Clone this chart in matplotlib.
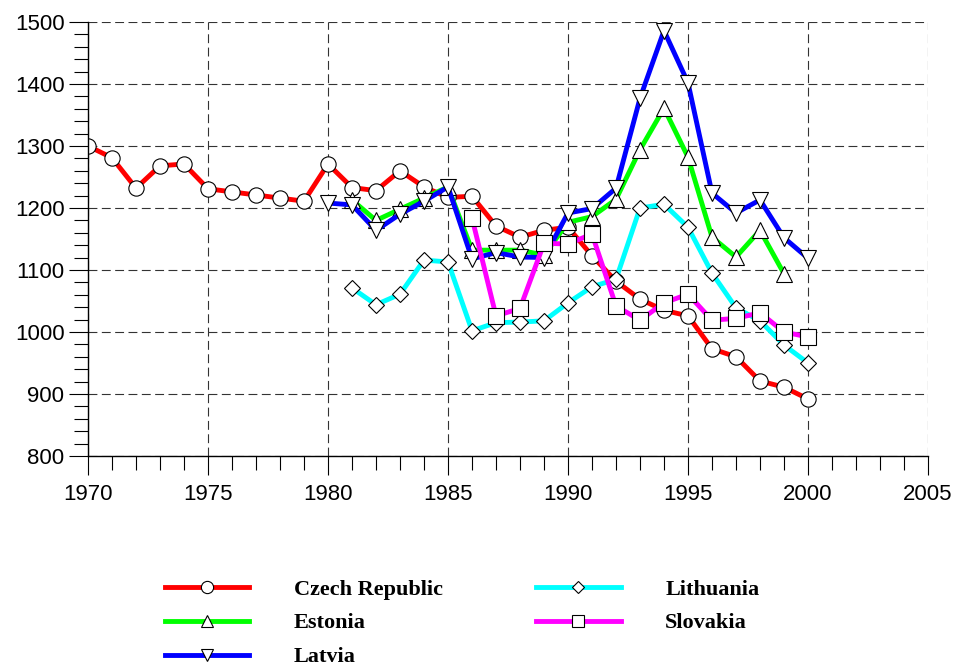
import numpy as np
import matplotlib.pyplot as plt
from matplotlib.ticker import MultipleLocator

plt.rcParams["font.family"] = ["Liberation Sans", "DejaVu Sans"]

czech_years = list(range(1970, 2001))
czech = [1300, 1281, 1232, 1268, 1271, 1231, 1226, 1221, 1216, 1211,
         1271, 1233, 1228, 1260, 1234, 1217, 1219, 1171, 1153, 1164,
         1169, 1123, 1082, 1053, 1035, 1026, 973, 960, 921, 911, 892]

estonia_years = list(range(1981, 2000))
estonia = [1213, 1180, 1198, 1216, 1234, 1132, 1132, 1132, 1124,
           1177, 1186, 1214, 1294, 1361, 1282, 1153, 1121, 1164, 1094]

latvia_years = list(range(1980, 2001))
latvia = [1208, 1205, 1164, 1190, 1211, 1234, 1118, 1128, 1121, 1120,
          1192, 1199, 1232, 1377, 1486, 1402, 1224, 1192, 1213, 1152, 1119]

lithuania_years = list(range(1981, 2001))
lithuania = [1071, 1044, 1061, 1116, 1113, 1002, 1015, 1016, 1018, 1047,
             1073, 1085, 1200, 1206, 1169, 1095, 1039, 1018, 979, 950]

slovakia_years = list(range(1986, 2001))
slovakia = [1184, 1026, 1038, 1143, 1142, 1158, 1042, 1019, 1047, 1061,
            1019, 1022, 1031, 1000, 992]

fig = plt.figure(figsize=(9.57, 6.63), dpi=100)
ax = fig.add_axes([88 / 957, 1 - 456 / 663, 840 / 957, 434 / 663])

mk = dict(markerfacecolor="white", markeredgecolor="black", markeredgewidth=0.8)
ax.plot(czech_years, czech, color="#ff0000", lw=3.5, marker="o", ms=11,
        label="Czech Republic", **mk)
ax.plot(estonia_years, estonia, color="#00ff00", lw=3.5, marker="^", ms=11,
        label="Estonia", **mk)
ax.plot(latvia_years, latvia, color="#0000ff", lw=3.5, marker="v", ms=11,
        label="Latvia", **mk)
ax.plot(lithuania_years, lithuania, color="#00ffff", lw=3.5, marker="D", ms=8,
        label="Lithuania", **mk)
ax.plot(slovakia_years, slovakia, color="#ff00ff", lw=3.5, marker="s", ms=11,
        label="Slovakia", **mk)

ax.set_xlim(1970, 2005)
ax.set_ylim(800, 1500)
ax.xaxis.set_major_locator(MultipleLocator(5))
ax.xaxis.set_minor_locator(MultipleLocator(1))
ax.yaxis.set_major_locator(MultipleLocator(100))
ax.yaxis.set_minor_locator(MultipleLocator(20))
ax.tick_params(which="major", direction="out", length=14, width=0.8,
               labelsize=16, pad=3)
ax.tick_params(axis="x", which="major", pad=6)
ax.tick_params(which="minor", direction="out", length=10, width=0.8)

ax.grid(which="major", color="#333333", lw=0.8, linestyle=(0, (8, 4)))
ax.spines["top"].set_visible(False)
ax.spines["right"].set_visible(False)
for s in ("left", "bottom"):
    ax.spines[s].set_linewidth(1.0)
ax.set_axisbelow(True)

# legend sits under the axes, last row runs off the bottom edge
handles, labels = ax.get_legend_handles_labels()
leg = fig.legend(handles, labels, ncol=2, loc="upper left",
                 bbox_to_anchor=(165 / 957, 1 - 579 / 663),
                 frameon=False, numpoints=1, borderpad=0, borderaxespad=0,
                 handlelength=3.8, handletextpad=2.0, columnspacing=4.2,
                 labelspacing=0.6, markerscale=0.8,
                 prop={"family": "Liberation Serif", "weight": "bold", "size": 16})

fig.savefig("out.png", dpi=100)
